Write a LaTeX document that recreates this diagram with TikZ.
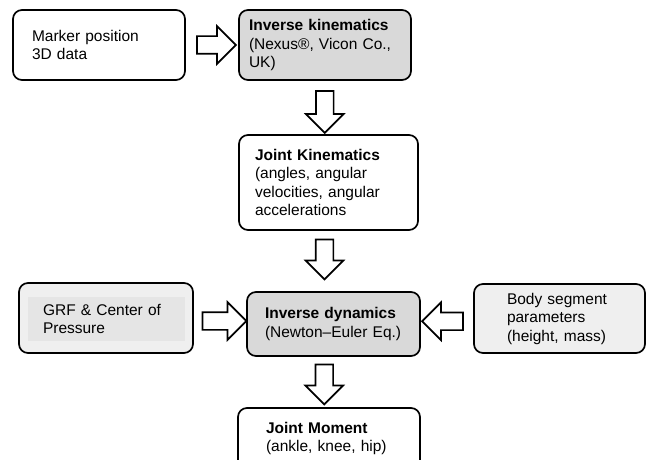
\documentclass[tikz,border=0pt]{standalone}
\usepackage{fontspec}
\setmainfont{Liberation Sans}
\usetikzlibrary{positioning,shapes.arrows,calc}

\definecolor{darkfill}{HTML}{D9D9D9}
\definecolor{lightfill}{HTML}{EFEFEF}
\definecolor{innerfill}{HTML}{E5E5E5}

\begin{document}
\begin{tikzpicture}[%
			x=1pt, y=-1pt,
			font=\fontsize{15.5}{18.5}\selectfont,
			stagebox/.style={%
				draw,
				line width=1.7pt,
				rounded corners=9pt,
				align=left,
				inner sep=0pt
			},
			blockarrow/.style={%
				single arrow,
				draw,
				fill=white,
				line width=1.7pt,
				inner sep=8pt,
				single arrow head extend=10pt
			}
			]
			\useasboundingbox (0,0) rectangle (657,460);
			\clip (0,0) rectangle (657,460);

			\node[stagebox, minimum width=172pt, minimum height=70pt, text width=134pt] (1) at (99,45)
				{Marker position\\3D data};
			\node[stagebox, fill=darkfill, minimum width=172pt, minimum height=70pt, text width=152pt] (2) at (325,45)
				{\textbf{Inverse kinematics}\\(Nexus®, Vicon Co.,\\UK)};
			\node[stagebox, minimum width=179pt, minimum height=95pt, text width=147pt] (3) at (328.5,182.5)
				{\textbf{Joint Kinematics}\\(angles, angular\\velocities, angular\\accelerations};
			\node[stagebox, fill=lightfill, minimum width=174pt, minimum height=70pt] (4) at (106,318) {};
			\node[fill=innerfill, inner sep=0pt, minimum width=157pt, minimum height=44pt, text width=127pt, align=left] (4t) at (106.5,319)
				{GRF \& Center of\\Pressure};
			\node[stagebox, fill=darkfill, minimum width=173pt, minimum height=64pt, text width=137pt] (5) at (333.5,324)
				{\textbf{Inverse dynamics}\\(Newton--Euler Eq.)};
			\node[stagebox, fill=lightfill, minimum width=171pt, minimum height=69pt, text width=105pt] (6) at (559.5,318.5)
				{Body segment\\parameters\\(height, mass)};
			\node[stagebox, minimum width=182pt, minimum height=61pt, text width=126pt] (7) at (329,438.5)
				{\textbf{Joint Moment}\\(ankle, knee, hip)};

			% hollow arrows between the stages
			\node[blockarrow, minimum height=39pt] (a12) at ($(1.east)!.5!(2.west)$) {};
			\node[blockarrow, shape border rotate=270, minimum height=42pt, xshift=-2pt] (a23) at ($(2.south)!.5!(3.north)$) {};
			\node[blockarrow, shape border rotate=270, minimum height=40pt, xshift=-6.5pt, yshift=6pt] (a35) at ($(3.south)!.5!(5.north)$) {};
			\node[blockarrow, minimum height=44pt] (a45) at ($(4.east)!.5!(5.west)$) {};
			\node[blockarrow, shape border rotate=180, minimum height=41pt] (a65) at ($(6.west)!.5!(5.east)$) {};
			\node[blockarrow, shape border rotate=270, minimum height=40pt, xshift=-7pt, yshift=2pt] (a57) at ($(5.south)!.5!(7.north)$) {};
\end{tikzpicture}
\end{document}
